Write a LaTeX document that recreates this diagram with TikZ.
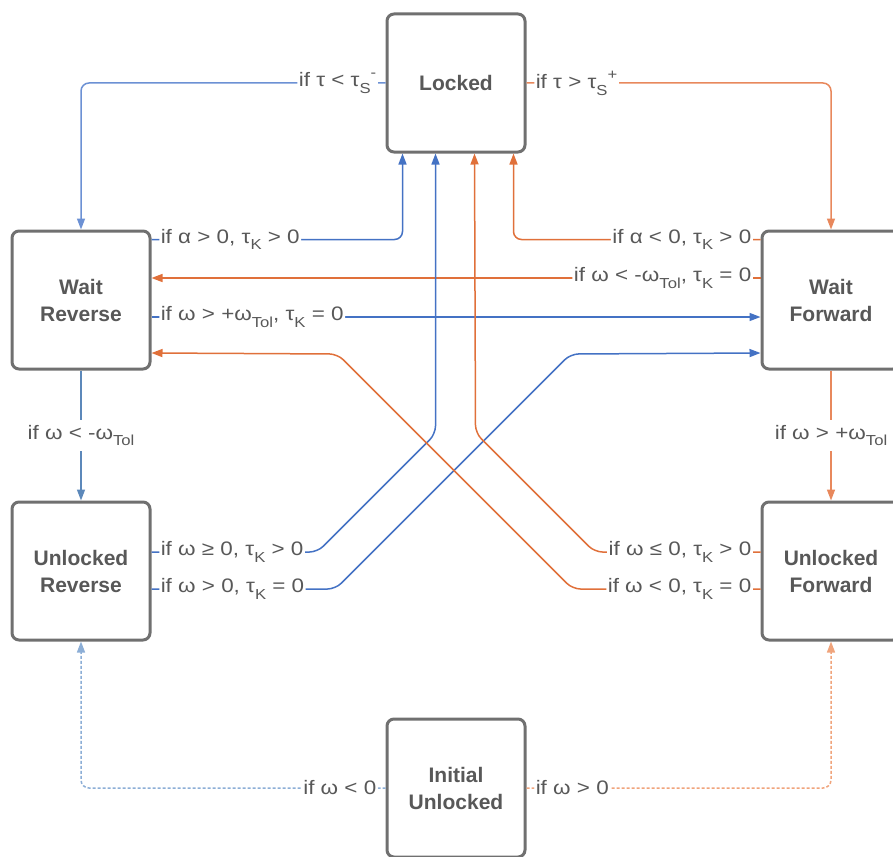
\documentclass[tikz,border=0pt]{standalone}
\usepackage{fontspec}
\setmainfont{Liberation Sans}
\newfontfamily\condfont[FakeStretch=1.15]{Liberation Sans}
\usepackage{xcolor}
\usetikzlibrary{arrows.meta, positioning}
\definecolor{boxgray}{RGB}{112, 112, 112}
\definecolor{textgray}{RGB}{88, 88, 88}
\definecolor{revblue}{RGB}{68, 114, 196}
\definecolor{fwdorange}{RGB}{224, 112, 58}
\definecolor{softblue}{RGB}{108, 145, 212}
\definecolor{softorange}{RGB}{232, 136, 92}
\definecolor{steelblue}{RGB}{92, 136, 186}
\definecolor{paleblue}{RGB}{140, 174, 214}
\definecolor{paleorange}{RGB}{240, 164, 124}
\newcommand{\lsub}[1]{\raisebox{-0.33em}{\fontsize{14.5}{15}\selectfont #1}}
\newcommand{\lsup}[1]{\raisebox{0.5em}{\fontsize{14.5}{15}\selectfont #1}}

\begin{document}
\begin{tikzpicture}[
  x=1pt, y=1pt,
  statebox/.style={rectangle, draw=boxgray, line width=3pt, fill=white, rounded corners=7pt, minimum width=138pt, minimum height=138pt, align=center, text=textgray, font=\bfseries\fontsize{21}{27}\selectfont},
  cond/.style={fill=white, inner sep=1.5pt, text=textgray, font=\condfont\fontsize{19.5}{22}\selectfont},
  trans/.style={-{Triangle[length=11pt,width=8pt]}, line width=1.5pt, rounded corners=8pt},
  startline/.style={trans, dash pattern=on 3pt off 2pt}
]
  \useasboundingbox (0,0) rectangle (893,-856);

  % Nodes
  \node[statebox] (locked) at (456,-83) {Locked};
  \node[statebox, below left=76pt and 234pt of locked] (waitrev) {Wait\\Reverse};
  \node[statebox, below right=76pt and 234pt of locked] (waitfwd) {Wait\\Forward};
  \node[statebox, below=130pt of waitrev] (unlrev) {Unlocked\\Reverse};
  \node[statebox, below=130pt of waitfwd] (unlfwd) {Unlocked\\Forward};
  \node[statebox, below=564pt of locked] (init) {Initial\\Unlocked};

  % Leaving Locked
  \draw[trans, softblue] (locked.west) node[cond, anchor=east, xshift=-7pt] {if τ < τ\lsub{S}\lsup{-}} -| (waitrev.north);
  \draw[trans, softorange] (locked.east) node[cond, anchor=west, xshift=7pt] {if τ > τ\lsub{S}\lsup{+}} -| (waitfwd.north);

  % Wait states
  \draw[trans, revblue] ([yshift=-10pt]waitrev.north east) node[cond, anchor=west, xshift=7pt] {if α > 0, τ\lsub{K} > 0} -| ([xshift=17pt]locked.south west);
  \draw[trans, fwdorange] ([yshift=-10pt]waitfwd.north west) node[cond, anchor=east, xshift=-7pt] {if α < 0, τ\lsub{K} > 0} -| ([xshift=-13pt]locked.south east);
  \draw[trans, fwdorange] ([yshift=22pt]waitfwd.west) node[cond, anchor=east, xshift=-7pt] {if ω < -ω\lsub{Tol}, τ\lsub{K} = 0} -- ([yshift=22pt]waitrev.east);
  \draw[trans, revblue] ([yshift=-17pt]waitrev.east) node[cond, anchor=west, xshift=7pt] {if ω > +ω\lsub{Tol}, τ\lsub{K} = 0} -- ([yshift=-17pt]waitfwd.west);
  \draw[trans, steelblue] (waitrev) -- (unlrev) node[cond, midway, inner ysep=5pt] {if ω < -ω\lsub{Tol}};
  \draw[trans, softorange] (waitfwd) -- (unlfwd) node[cond, midway, inner ysep=5pt] {if ω > +ω\lsub{Tol}};

  % Unlocked states, crossing back
  \draw[trans, revblue] ([yshift=19pt]unlrev.east) node[cond, anchor=west, xshift=7pt] {if ω ≥ 0, τ\lsub{K} > 0} -- ++(166,0) -- ++(118,118) -- ([xshift=50pt]locked.south west);
  \draw[trans, revblue] ([yshift=-18pt]unlrev.east) node[cond, anchor=west, xshift=7pt] {if ω > 0, τ\lsub{K} = 0} -- ++(184,0) -- ++(235,235) -- ([yshift=-53pt]waitfwd.west);
  \draw[trans, fwdorange] ([yshift=19pt]unlfwd.west) node[cond, anchor=east, xshift=-7pt] {if ω ≤ 0, τ\lsub{K} > 0} -- ++(-166,0) -- ++(-119,119) -- ([xshift=89pt]locked.south west);
  \draw[trans, fwdorange] ([yshift=-18pt]unlfwd.west) node[cond, anchor=east, xshift=-7pt] {if ω < 0, τ\lsub{K} = 0} -- ++(-188,0) -- ++(-235,235) -- ([yshift=-53pt]waitrev.east);

  % Start
  \draw[startline, paleblue] (init.west) node[cond, anchor=east, xshift=-7pt] {if ω < 0} -| (unlrev.south);
  \draw[startline, paleorange] (init.east) node[cond, anchor=west, xshift=7pt] {if ω > 0} -| (unlfwd.south);
\end{tikzpicture}
\end{document}
